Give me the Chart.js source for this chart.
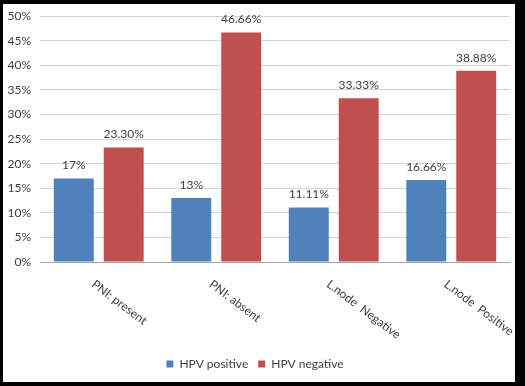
<!DOCTYPE html>
<html>
<head>
<meta charset="utf-8">
<script src="https://cdn.jsdelivr.net/npm/chart.js@4"></script>
<style>
  html, body { margin: 0; padding: 0; background: #000; }
  #frame { position: absolute; left: 0; top: 0; width: 525px; height: 386px; background: #000; }
  #paper { position: absolute; left: 3px; top: 4px; width: 512px; height: 378px; background: #fff; }
  #wrap { position: absolute; left: 0; top: 0; width: 525px; height: 386px; }
</style>
</head>
<body>
<div id="frame"><div id="paper"></div></div>
<div id="wrap"><canvas id="chart" width="525" height="386"></canvas></div>
<script>
const categories = ['PNI: present', 'PNI: absent', 'L.node  Negative', 'L.node  Positive'];
const hpvPositive = [17, 13, 11.11, 16.66];
const hpvNegative = [23.3, 46.66, 33.33, 38.88];
const positiveLabels = ['17%', '13%', '11.11%', '16.66%'];
const negativeLabels = ['23.30%', '46.66%', '33.33%', '38.88%'];

const FONT = 'Lato, "Liberation Sans", sans-serif';
const TEXT = '#404040';

// value labels above every bar
const barLabels = {
  id: 'barLabels',
  afterDatasetsDraw(chart) {
    const ctx = chart.ctx;
    ctx.save();
    ctx.font = '12px ' + FONT;
    ctx.fillStyle = TEXT;
    ctx.textAlign = 'center';
    ctx.textBaseline = 'bottom';
    chart.data.datasets.forEach((ds, i) => {
      chart.getDatasetMeta(i).data.forEach((bar, j) => {
        ctx.fillText(ds.labels[j], bar.x, bar.y - 7);
      });
    });
    ctx.restore();
  }
};

// slanted category labels (clockwise, starting at the category centre)
const slantLabels = {
  id: 'slantLabels',
  afterDraw(chart) {
    const ctx = chart.ctx, x = chart.scales.x;
    ctx.save();
    ctx.font = '12px ' + FONT;
    ctx.fillStyle = TEXT;
    ctx.textAlign = 'left';
    ctx.textBaseline = 'top';
    categories.forEach((c, i) => {
      ctx.save();
      ctx.translate(x.getPixelForTick(i) - 2, chart.chartArea.bottom + 16);
      ctx.rotate(37 * Math.PI / 180);
      ctx.fillText(c, 0, 0);
      ctx.restore();
    });
    ctx.restore();
  }
};

new Chart(document.getElementById('chart').getContext('2d'), {
  type: 'bar',
  data: {
    labels: categories,
    datasets: [{
      label: 'HPV positive',
      data: hpvPositive,
      labels: positiveLabels,
      backgroundColor: '#4F81BD'
    }, {
      label: 'HPV negative',
      data: hpvNegative,
      labels: negativeLabels,
      backgroundColor: '#C0504D'
    }]
  },
  options: {
    responsive: false,
    animation: false,
    datasets: { bar: { categoryPercentage: 0.85, barPercentage: 0.8 } },
    layout: { padding: { top: 13, right: 15, bottom: 6, left: 0 } },
    plugins: {
      tooltip: { enabled: false },
      legend: {
        position: 'bottom',
        labels: {
          boxWidth: 7, boxHeight: 7, padding: 10,
          color: TEXT,
          font: { family: FONT, size: 12 }
        }
      }
    },
    scales: {
      x: {
        grid: { display: false },
        border: { color: '#A6A6A6', width: 1 },
        ticks: { display: false },
        afterFit(s) { s.height = 86; }
      },
      y: {
        min: 0, max: 50,
        ticks: {
          stepSize: 5, padding: 9,
          color: TEXT,
          font: { family: FONT, size: 12 },
          callback: v => v + '%'
        },
        grid: { color: '#D0D4DE', drawTicks: false },
        border: { display: false },
        afterFit(s) { s.width = 40; }
      }
    }
  },
  plugins: [barLabels, slantLabels]
});
</script>
</body>
</html>
